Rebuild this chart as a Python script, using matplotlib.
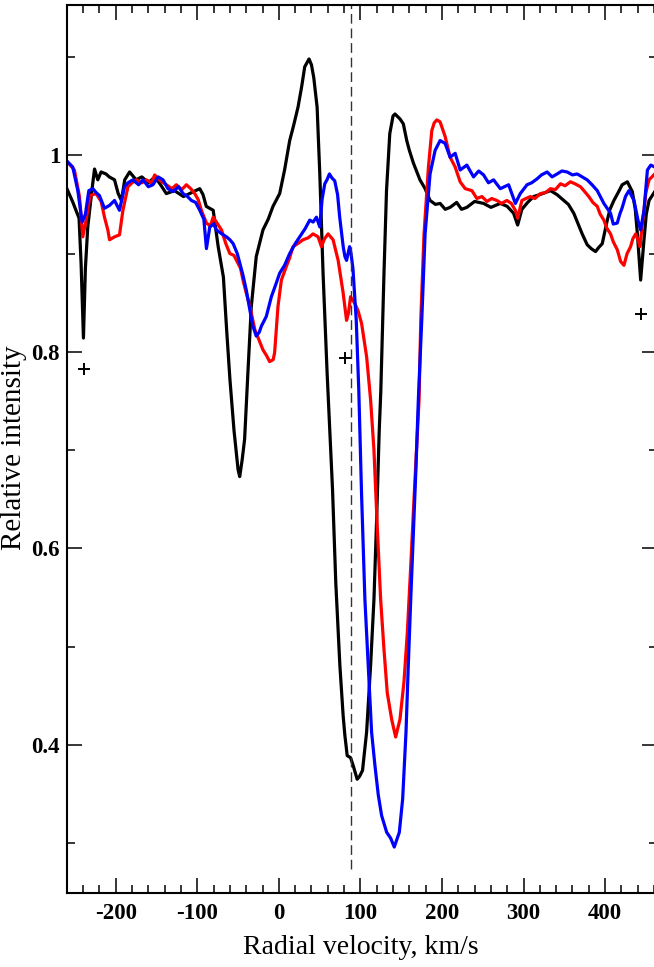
# %%
import numpy as np
from matplotlib import pyplot as plt
from matplotlib.ticker import MultipleLocator

plt.rcParams["font.family"] = ["Liberation Serif", "DejaVu Serif"]

# %%
# black profile
black_v = [-261, -253, -245, -242.5, -239.6, -237.2, -234.3, -229, -226, -222, -218, -212, -208,
           -201.5, -197, -193, -189, -183, -175, -168, -160, -152, -145, -138, -128, -117, -107,
           -97, -93, -89, -80.5, -74.4, -68, -64, -60, -55, -50, -48, -45, -42, -38, -33.8, -27.7,
           -19.5, -13, -7.2, 1, 7, 13.3, 18, 23.5, 28, 31.7, 37, 40, 42.8, 46.9, 50.2, 54.2, 59.2,
           65.8, 69.8, 74.8, 78.8, 80.9, 83.8, 87.9, 91.1, 96, 99, 102.6, 107.6, 112.5, 116.6,
           119.9, 123, 125, 128.9, 132, 136, 140, 142.4, 148.5, 152.6, 156.8, 160, 165, 173, 179.3,
           185.4, 192, 197.7, 204, 210, 218, 224, 230.5, 240, 251, 260, 271.5, 280, 287.8, 292.8,
           298, 305, 312.4, 320, 333, 341, 349.3, 355, 361.6, 366, 371.9, 378, 383, 388.3, 392,
           396.5, 402.7, 406, 410.8, 416, 421, 427.3, 433.4, 437, 439.6, 443.6, 447.7, 450.5,
           453.9, 460.9]
black_i = [0.968, 0.953, 0.936, 0.89, 0.814, 0.885, 0.927, 0.966, 0.986, 0.975, 0.983, 0.981, 0.978,
           0.975, 0.961, 0.954, 0.975, 0.983, 0.975, 0.978, 0.972, 0.978, 0.970, 0.961, 0.964, 0.958,
           0.962, 0.966, 0.960, 0.948, 0.944, 0.907, 0.876, 0.822, 0.772, 0.72, 0.68, 0.673, 0.69,
           0.711, 0.778, 0.846, 0.897, 0.924, 0.935, 0.948, 0.961, 0.985, 1.015, 1.03, 1.049, 1.07,
           1.09, 1.098, 1.092, 1.079, 1.049, 0.981, 0.88, 0.778, 0.66, 0.565, 0.481, 0.430, 0.41,
           0.389, 0.387, 0.379, 0.365, 0.368, 0.374, 0.413, 0.481, 0.548, 0.63, 0.718, 0.76, 0.88,
           0.964, 1.022, 1.040, 1.042, 1.037, 1.032, 1.015, 1.005, 0.992, 0.975, 0.966, 0.954, 0.95,
           0.951, 0.945, 0.947, 0.952, 0.945, 0.947, 0.953, 0.951, 0.947, 0.951, 0.948, 0.941, 0.929,
           0.945, 0.952, 0.958, 0.96, 0.964, 0.96, 0.954, 0.95, 0.941, 0.932, 0.92, 0.909, 0.905,
           0.902, 0.906, 0.91, 0.934, 0.945, 0.954, 0.962, 0.97, 0.973, 0.963, 0.945, 0.92, 0.873,
           0.914, 0.94, 0.954, 0.963]

# red profile
red_v = [-261, -250.7, -244.5, -240.4, -236.3, -231.4, -224, -217.9, -213.8, -209.7, -207.6, -201.5,
         -195.4, -191.2, -185, -180, -174.8, -168, -162.5, -156, -152.3, -145, -138, -131, -125.7,
         -119, -113.4, -108, -103.1, -99, -95, -88.8, -84, -80.5, -75, -70.3, -65, -60.1, -55,
         -51.9, -47, -43.7, -40, -35.5, -29.3, -27.7, -19.5, -15, -11.3, -7, -5.2, -1.1, 3.1, 9.2,
         13, 17.3, 23, 29.6, 36, 41.9, 48.1, 52.2, 56, 60.4, 66.5, 72.7, 78.8, 83, 85.5, 87.9, 93.2,
         97, 101.4, 107.6, 112.5, 116.6, 120.6, 124.8, 128.9, 132.9, 138.3, 143.2, 148.5, 153.4,
         157.5, 161.7, 165.7, 169.8, 171.9, 174, 178, 183.4, 187.5, 190.5, 193.7, 197.7, 203.9, 210,
         216.2, 222.3, 228.5, 236.7, 242.8, 249, 255.1, 261, 267.4, 273, 279.7, 285, 290, 292.8,
         298, 303, 308.4, 314, 320.7, 327, 333, 339, 345.3, 351, 357.5, 363, 369.8, 375, 380, 385,
         390.4, 394, 398.5, 402, 406.7, 410, 414.9, 419, 423.1, 427, 431.3, 434, 437.5, 440, 442.8,
         445, 447.7, 450, 453.9, 460.9]
red_i = [0.995, 0.985, 0.958, 0.917, 0.934, 0.959, 0.961, 0.953, 0.937, 0.924, 0.914, 0.917, 0.919,
         0.944, 0.968, 0.972, 0.975, 0.972, 0.975, 0.972, 0.98, 0.974, 0.97, 0.966, 0.97, 0.965,
         0.97, 0.966, 0.961, 0.955, 0.944, 0.931, 0.928, 0.937, 0.93, 0.924, 0.91, 0.9, 0.898,
         0.893, 0.885, 0.872, 0.86, 0.846, 0.822, 0.819, 0.802, 0.796, 0.79, 0.792, 0.799, 0.846,
         0.873, 0.887, 0.895, 0.907, 0.91, 0.914, 0.916, 0.92, 0.917, 0.907, 0.915, 0.92, 0.914,
         0.893, 0.86, 0.832, 0.84, 0.856, 0.849, 0.842, 0.829, 0.795, 0.751, 0.7, 0.623, 0.548,
         0.497, 0.453, 0.426, 0.408, 0.426, 0.464, 0.514, 0.582, 0.65, 0.717, 0.751, 0.832, 0.92,
         0.988, 1.025, 1.033, 1.036, 1.034, 1.019, 0.998, 0.988, 0.973, 0.966, 0.964, 0.956, 0.958,
         0.953, 0.956, 0.954, 0.951, 0.954, 0.951, 0.944, 0.936, 0.954, 0.956, 0.958, 0.956, 0.961,
         0.962, 0.966, 0.965, 0.971, 0.969, 0.973, 0.971, 0.968, 0.963, 0.958, 0.952, 0.948, 0.94,
         0.934, 0.926, 0.92, 0.912, 0.904, 0.892, 0.888, 0.9, 0.907, 0.915, 0.92, 0.915, 0.907,
         0.925, 0.944, 0.962, 0.975, 0.981]

# blue profile
blue_v = [-261, -252.7, -246.5, -241.2, -237.2, -233, -228, -224, -220, -213.8, -207.6, -201.5,
          -195.4, -189.2, -185, -179, -172, -166.6, -160, -154.4, -148, -142, -136, -129.7, -123,
          -117.4, -112, -107.2, -102, -97, -92, -88.8, -84.7, -80, -76.5, -70, -64.2, -60, -56, -51,
          -47.8, -44, -40, -35, -31.8, -27.7, -24, -21.5, -15.4, -9.2, -4, 1, 7, 13.3, 20, 25.6, 32,
          37.9, 42, 46.1, 50.2, 53, 56.3, 59, 62, 65, 68.5, 72, 74.6, 78.9, 81, 83, 86.7, 88.5, 90.8,
          94.9, 98, 101.4, 105.5, 109.6, 113.7, 117.8, 121.9, 126, 132.2, 137.1, 141.5, 147.7,
          151.8, 155.9, 158.7, 161.7, 164.9, 168.2, 171, 175.2, 179.3, 185.4, 191.6, 197.7, 203.9,
          210, 216.2, 222.3, 230.5, 238.7, 245, 251, 257, 263.3, 271.5, 281.7, 290, 296, 304.3, 310,
          316.6, 322, 328.9, 335, 341.2, 347, 353.5, 360, 365.8, 372, 378, 384, 390.4, 398.5, 406.7,
          410, 414.9, 418, 421.1, 425, 429.2, 435.4, 440.3, 443.6, 447.7, 451.9, 456, 460.9]
blue_i = [0.995, 0.988, 0.964, 0.932, 0.94, 0.964, 0.966, 0.962, 0.959, 0.946, 0.949, 0.954, 0.944,
          0.968, 0.972, 0.975, 0.97, 0.975, 0.968, 0.97, 0.978, 0.975, 0.966, 0.963, 0.968, 0.961,
          0.958, 0.954, 0.952, 0.944, 0.935, 0.905, 0.927, 0.93, 0.924, 0.92, 0.917, 0.914, 0.91,
          0.9, 0.89, 0.878, 0.863, 0.84, 0.826, 0.816, 0.82, 0.826, 0.836, 0.856, 0.868, 0.88,
          0.888, 0.9, 0.91, 0.917, 0.925, 0.934, 0.932, 0.937, 0.927, 0.955, 0.971, 0.975, 0.981,
          0.977, 0.974, 0.96, 0.937, 0.907, 0.897, 0.893, 0.907, 0.9, 0.885, 0.832, 0.761, 0.655,
          0.548, 0.481, 0.413, 0.379, 0.349, 0.328, 0.311, 0.305, 0.296, 0.311, 0.345, 0.413, 0.481,
          0.548, 0.616, 0.684, 0.751, 0.832, 0.92, 0.981, 1.005, 1.015, 1.012, 0.998, 1.002, 0.985,
          0.99, 0.978, 0.984, 0.98, 0.972, 0.975, 0.966, 0.97, 0.951, 0.961, 0.97, 0.972, 0.976,
          0.98, 0.983, 0.978, 0.981, 0.984, 0.983, 0.98, 0.981, 0.978, 0.975, 0.97, 0.964, 0.951,
          0.941, 0.93, 0.931, 0.94, 0.947, 0.958, 0.964, 0.954, 0.934, 0.924, 0.944, 0.985, 0.99,
          0.988]

# "+" marks and the dashed reference velocity
plus_v = [-238.6, 81, 443.6]
plus_i = [0.782, 0.794, 0.838]
v_ref = 88

# %%
fig = plt.figure(figsize=(6.54, 9.67), dpi=100)
ax = fig.add_axes([0.1024, 0.0765, 0.902, 0.918])

ax.plot(black_v, black_i, color="black", lw=2.3)
ax.plot(red_v, red_i, color="#ff0000", lw=2.3)
ax.plot(blue_v, blue_i, color="#0000ff", lw=2.3)
ax.vlines(v_ref, 0.274, 1.16, colors="#333333", lw=1.0, linestyles=(0, (7, 3.5)))
ax.plot(plus_v, plus_i, "+", color="black", ms=9, mew=1.4)

ax.set_xlim(-259.8, 463.5)
ax.set_ylim(0.2492, 1.1526)

ax.xaxis.set_major_locator(MultipleLocator(100))
ax.xaxis.set_minor_locator(MultipleLocator(20))
ax.yaxis.set_major_locator(MultipleLocator(0.2))
ax.yaxis.set_minor_locator(MultipleLocator(0.1))
ax.xaxis.set_major_formatter(plt.FuncFormatter(lambda x, p: f"{x:.0f}"))
ax.yaxis.set_major_formatter(plt.FuncFormatter(lambda y, p: f"{y:g}"))

ax.tick_params(which="both", direction="in", top=True, right=True, width=1.1)
ax.tick_params(which="major", length=11)
ax.tick_params(which="minor", length=5.5)
ax.tick_params(axis="x", pad=7, labelsize=16.5)
ax.tick_params(axis="y", pad=5, labelsize=16.5)
for lab in ax.get_xticklabels() + ax.get_yticklabels():
    lab.set_fontweight("bold")
for sp in ax.spines.values():
    sp.set_linewidth(1.5)

ax.set_xlabel("Radial velocity, km/s", fontsize=20)
ax.xaxis.set_label_coords(0.498, -0.047)
fig.text(14 / 654, 1 - 448 / 967, "Relative intensity", fontsize=21,
         rotation=90, ha="center", va="center")

fig.savefig("out.png", dpi=100)
